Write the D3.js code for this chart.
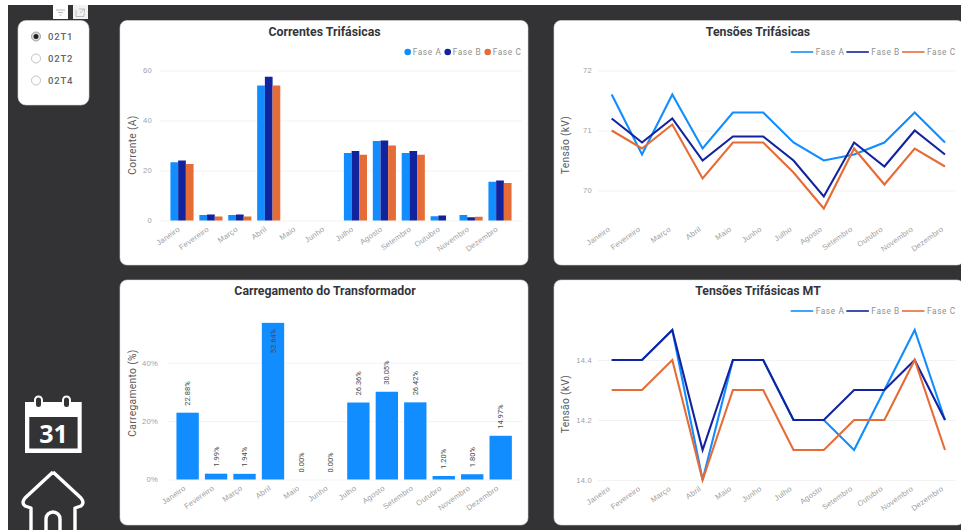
<!DOCTYPE html>
<html lang="pt">
<head>
<meta charset="utf-8">
<title>Painel do transformador</title>
<script src="https://cdnjs.cloudflare.com/ajax/libs/d3/7.8.5/d3.min.js"></script>
<style>
  html, body { margin: 0; padding: 0; background: #fff; overflow: hidden; }
  svg { display: block; font-family: Roboto, "Noto Sans", sans-serif; }
  .tick text { fill: #a0a0a0; font-size: 7.6px; letter-spacing: 0.25px; }
  .tick line { stroke: #f3f3f3; }
  .title { fill: #33353a; font-size: 12.3px; font-weight: 700; text-anchor: middle; }
  .ytitle { fill: #5a5a5a; font-size: 10.3px; text-anchor: middle; letter-spacing: 0.3px; }
  .legend { fill: #8f8f8f; font-size: 8.3px; letter-spacing: 0.6px; }
  .value { fill: #4a4a4a; font-size: 7.5px; }
</style>
</head>
<body>
<svg id="painel" width="961" height="530"></svg>
<script>
// Dados do painel
const meses = ["Janeiro","Fevereiro","Março","Abril","Maio","Junho","Julho","Agosto","Setembro","Outubro","Novembro","Dezembro"];
const fases = ["Fase A","Fase B","Fase C"];
const transformadores = ["02T1","02T2","02T4"];

const correnteA = [23.3,2.2,2.2,54,0,0,27,31.8,27,1.7,2.2,15.5];
const correnteB = [24,2.4,2.4,57.5,0,0,27.8,32,27.8,2,1.3,16];
const correnteC = [22.6,1.6,1.6,54,0,0,26.3,30,26.3,0,1.5,15];

const tensaoA = [71.6,70.6,71.6,70.7,71.3,71.3,70.8,70.5,70.6,70.8,71.3,70.8];
const tensaoB = [71.2,70.8,71.2,70.5,70.9,70.9,70.5,69.9,70.8,70.4,71.0,70.6];
const tensaoC = [71.0,70.7,71.1,70.2,70.8,70.8,70.3,69.7,70.7,70.1,70.7,70.4];

const carregamento = [22.88,1.99,1.94,53.64,0,0,26.36,30.05,26.42,1.20,1.80,14.97];

const tensaoMtA = [14.4,14.4,14.5,14.0,14.4,14.4,14.2,14.2,14.1,14.3,14.5,14.2];
const tensaoMtB = [14.4,14.4,14.5,14.1,14.4,14.4,14.2,14.2,14.3,14.3,14.4,14.2];
const tensaoMtC = [14.3,14.3,14.4,14.0,14.3,14.3,14.1,14.1,14.2,14.2,14.4,14.1];

const correnteTicks = [0,20,40,60];
const tensaoTicks = [70,71,72];
const carregamentoTicks = [0,20,40];
const tensaoMtTicks = [14.0,14.2,14.4];

const cores = ["#118DFF","#12239E","#E66C37"];
const fundo = "#333336";

const svg = d3.select("#painel");

// Fundo escuro do relatório
svg.append("rect").attr("x",8).attr("y",5).attr("width",953).attr("height",525).attr("fill",fundo);

// Cartões brancos
function cartao(x, y, w, h, r) {
  svg.append("rect").attr("x",x).attr("y",y).attr("width",w).attr("height",h).attr("rx",r)
    .attr("fill","#fff").attr("stroke","#d9d9d9").attr("stroke-width",0.6);
}
cartao(120,20.5,408,244.5,7);
cartao(554,20.5,410,244.5,7);
cartao(120,280,408,245,7);
cartao(554,280,410,245,7);
cartao(18,20.5,71,84.5,8);

// Eixos comuns: grade horizontal e meses inclinados abaixo da linha de base
function eixos(g, x, y, ticks, fmt, left, right, labelX, base) {
  const ax = g.append("g").attr("transform",`translate(${left},0)`)
    .call(d3.axisRight(y).tickValues(ticks).tickSize(right-left).tickFormat(fmt));
  ax.select(".domain").remove();
  ax.selectAll(".tick text").attr("x",labelX-left).attr("text-anchor","end").attr("dy","0.32em");

  const bx = g.append("g").attr("transform",`translate(0,${base})`)
    .call(d3.axisBottom(x).tickSize(0).tickFormat(d=>d));
  bx.select(".domain").remove();
  bx.selectAll(".tick text")
    .attr("text-anchor","end")
    .attr("dy",0).attr("y",0)
    .attr("transform","translate(-1.5,10) rotate(-35)");
}

function titulos(g, titulo, tx, ty, ytitulo, yx, yy) {
  g.append("text").attr("class","title").attr("x",tx).attr("y",ty).text(titulo);
  g.append("text").attr("class","ytitle")
    .attr("transform",`translate(${yx},${yy}) rotate(-90)`).text(ytitulo);
}

// Gráfico de colunas agrupadas por fase
function colunasAgrupadas() {
  const g = svg.append("g");
  const x = d3.scaleBand().domain(meses).range([167.55,514.45]).paddingInner(0.2).paddingOuter(0.1);
  const y = d3.scaleLinear().domain([0,60]).range([220.5,70.5]);
  const xFase = d3.scaleBand().domain(fases).range([0,x.bandwidth()]);
  eixos(g,x,y,correnteTicks,d3.format("d"),160,522,152,220.5);
  [correnteA,correnteB,correnteC].forEach((serie,i)=>{
    g.append("g").selectAll("rect").data(serie).join("rect")
      .attr("x",(d,j)=>x(meses[j])+xFase(fases[i]))
      .attr("y",d=>y(d))
      .attr("width",xFase.bandwidth())
      .attr("height",d=>y(0)-y(d))
      .attr("fill",cores[i]);
  });
  titulos(g,"Correntes Trifásicas",324.5,35.5,"Corrente (A)",136,145);
  const lx = d3.scalePoint().domain(fases).range([407.7,487.7]);
  fases.forEach((f,i)=>{
    g.append("circle").attr("cx",lx(f)).attr("cy",52).attr("r",3.3).attr("fill",cores[i]);
    g.append("text").attr("class","legend").attr("x",lx(f)+5).attr("y",55).text(f);
  });
}

// Gráficos de linhas por fase
function linhas(series, dominio, faixa, ticks, fmt, base, titulo, ty, ytitulo, yy, legendaY) {
  const g = svg.append("g");
  const x = d3.scalePoint().domain(meses).range([611.7,945]);
  const y = d3.scaleLinear().domain(dominio).range(faixa);
  eixos(g,x,y,ticks,fmt,598,955,592,base);
  const linha = d3.line().x((d,j)=>x(meses[j])).y(d=>y(d));
  series.forEach((serie,i)=>{
    g.append("path").attr("d",linha(serie)).attr("fill","none")
      .attr("stroke",cores[i]).attr("stroke-width",2.1).attr("stroke-linejoin","miter");
  });
  titulos(g,titulo,758,ty,ytitulo,569,yy);
  const lx = d3.scalePoint().domain(fases).range([790.7,902]);
  fases.forEach((f,i)=>{
    g.append("line").attr("x1",lx(f)).attr("x2",lx(f)+22.5).attr("y1",legendaY).attr("y2",legendaY)
      .attr("stroke",cores[i]).attr("stroke-width",1.6);
    g.append("text").attr("class","legend").attr("x",lx(f)+25).attr("y",legendaY+3).text(f);
  });
}

// Colunas de carregamento com rótulos de valor
function colunasCarregamento() {
  const g = svg.append("g");
  const x = d3.scaleBand().domain(meses).range([173.6,514.7]).paddingInner(0.215).paddingOuter(0.1);
  const y = d3.scaleLinear().domain([0,40]).range([479.5,362.7]);
  eixos(g,x,y,carregamentoTicks,d=>d+"%",168,522,158,479.5);
  g.append("g").selectAll("rect").data(carregamento).join("rect")
    .attr("x",(d,j)=>x(meses[j]))
    .attr("y",d=>y(d))
    .attr("width",x.bandwidth())
    .attr("height",d=>y(0)-y(d))
    .attr("fill",cores[0]);
  g.append("g").selectAll("text").data(carregamento).join("text")
    .attr("class","value")
    .attr("text-anchor",d=>d>50?"end":"start")
    .attr("transform",(d,j)=>{
      const cx = x(meses[j])+x.bandwidth()/2+2.6;
      const cy = d>50 ? y(d)+6 : y(d)-7;
      return `translate(${cx},${cy}) rotate(-90)`;
    })
    .text(d=>d.toFixed(2)+"%");
  titulos(g,"Carregamento do Transformador",325,294.5,"Carregamento (%)",136,393);
}

// Seletor de transformador
function seletor() {
  const y = d3.scalePoint().domain(transformadores).range([36.5,80.5]);
  transformadores.forEach((t,i)=>{
    svg.append("circle").attr("cx",36).attr("cy",y(t)).attr("r",4.5)
      .attr("fill",i===0?"#ddd":"#fff").attr("stroke",i===0?"#999":"#bbb").attr("stroke-width",0.9);
    if (i===0) svg.append("circle").attr("cx",36).attr("cy",y(t)).attr("r",2.5).attr("fill","#222");
    svg.append("text").attr("x",48).attr("y",y(t)+3.3)
      .attr("fill","#666").attr("font-size",9.5).attr("font-weight",500).attr("letter-spacing",0.8).text(t);
  });
}

// Botões de filtro e foco acima do seletor
function botoes() {
  svg.append("rect").attr("x",53).attr("y",5).attr("width",15).attr("height",14).attr("fill","#fff");
  svg.append("rect").attr("x",73).attr("y",5).attr("width",15).attr("height",14).attr("fill","#f2f2f2");
  svg.append("path").attr("d","M56 10H65M58 12.5H63M59.500 15H61.500").attr("stroke","#999").attr("stroke-width",0.7).attr("fill","none");
  svg.append("path").attr("d","M76 10V16.500H84V13M79 9H84.500V12.500M84.500 9L80 13").attr("stroke","#aaa").attr("stroke-width",0.7).attr("fill","none");
}

// Ícones de calendário e início
function icones() {
  const c = svg.append("g");
  c.append("path").attr("fill","#fff").attr("fill-rule","evenodd")
    .attr("d","M25 402H81.700V453H25ZM29.300 417V448.500H77.600V417Z");
  [38.5,66.5].forEach(cx=>{
    c.append("rect").attr("x",cx-3.5).attr("y",396.500).attr("width",7).attr("height",11.500).attr("rx",3.5)
      .attr("fill",fundo).attr("stroke","#fff").attr("stroke-width",2);
  });
  c.append("text").attr("x",53.500).attr("y",443).attr("text-anchor","middle")
    .attr("fill","#fff").attr("font-size",25).attr("font-weight",700).attr("font-family","'Open Sans',sans-serif").text("31");
  svg.append("path").attr("fill","none").attr("stroke","#fff").attr("stroke-width",3.4).attr("stroke-linejoin","round")
    .attr("d","M53 472L81 498Q85 503 81 506L75 508V535M53 472L25 498Q21 503 25 506L31 508V535M46 535V519a6 6 0 0 1 14 0V535");
}

colunasAgrupadas();
linhas([tensaoA,tensaoB,tensaoC],[70,72],[190.5,70.5],tensaoTicks,d3.format("d"),220.5,"Tensões Trifásicas",35.5,"Tensão (kV)",145,52);
colunasCarregamento();
linhas([tensaoMtA,tensaoMtB,tensaoMtC],[14.0,14.4],[480,360],tensaoMtTicks,d3.format(".1f"),480,"Tensões Trifásicas MT",294.5,"Tensão (kV)",404,311);
seletor();
botoes();
icones();
</script>
</body>
</html>
